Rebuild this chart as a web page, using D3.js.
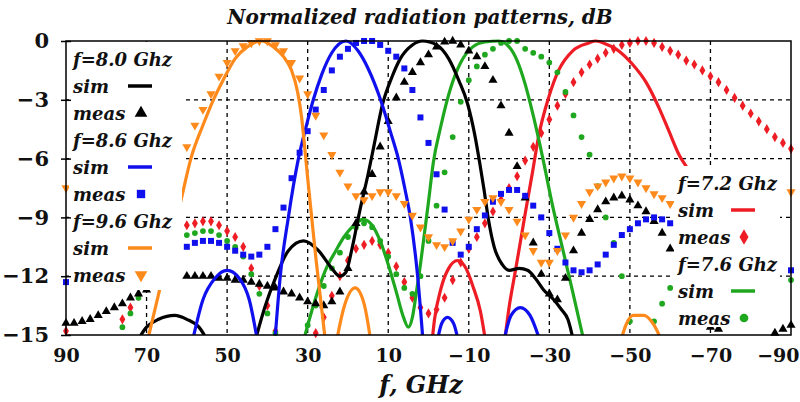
<!DOCTYPE html>
<html>
<head>
<meta charset="utf-8">
<script src="https://cdn.jsdelivr.net/npm/d3@7"></script>
<style>
  body { margin: 0; background: #fff; }
  svg text { font-family: "DejaVu Serif", serif; font-weight: bold; fill: #111; }
</style>
</head>
<body>
<svg id="chart" width="800" height="402"></svg>
<script>
/*jslint browser: true*/
/*global d3*/

// measured samples are read every 2 degrees, 90 .. -90 (null = off the chart / hidden)
var measAngles = d3.range(90, -91, -2);

var xTicks = [90, 70, 50, 30, 10, -10, -30, -50, -70, -90],
   yTicks = [0, -3, -6, -9, -12, -15],
   xGrid = [70, 50, 30, 10, -10, -30, -50, -70],
   yGrid = [-3, -6, -9, -12];

// f = 7.2 GHz
var sim72 = [
   [-0.8, -15.5], [-1.5, -14.2], [-3, -12.7], [-5, -11.6], [-7.2, -11.2], [-9.3, -11.6], [-11, -12.5], [-12.9, -13.8], [-14.3, -15.5], null,
   [-18.8, -15.5], [-20, -13.6], [-21.6, -11.7], [-24.1, -8.7], [-25.9, -6.6], [-27.3, -4.9], [-29.8, -2.9], [-32.3, -1.5], [-35.8, -0.5],
   [-39.8, -0.1], [-41.5, 0], [-44, -0.15], [-46.5, -0.4], [-50.7, -1.2], [-54, -2.1], [-57.2, -3.4], [-59.7, -4.6], [-62.2, -5.8], [-64.6, -6.6], [-67, -7.5]
];
var meas72 = [
   -14.8, null, null, null, null, null, null, -14.2, -13.6, -13.0,   // 90..72
   -12.4, null, null, null, null, -9.4, -9.3, -9.2, -9.2, -9.4,       // 70..52
   -9.7, -10.0, -10.5, -11.6, -12.5, -13.5, -14.8, null, null, null,  // 50..32
   null, -14.9, -14.1, -13.0, -12.0, -11.2, -10.6, -10.4, -10.2, -10.4, // 30..12
   -10.8, -11.5, -12.3, -13.1, -13.6, -13.9, -13.7, -13.1, -12.2, -11.3, // 10..-8
   -10.6, -10.0, -9.3, -8.7, -8.1, -7.5, -6.9, -6.1, -5.4, -4.7,     // -10..-28
   -4.0, -3.3, -2.7, -2.1, -1.6, -1.2, -0.9, -0.6, -0.4, -0.2,       // -30..-48
   -0.1, 0, 0, -0.1, -0.3, -0.5, -0.7, -1.0, -1.2, -1.5,             // -50..-68
   -1.8, -2.1, -2.5, -2.9, -3.3, -3.7, -4.1, -4.5, -4.9, -5.2,       // -70..-88
   -5.5
];

// f = 7.6 GHz
var sim76 = [
   [31.3, -15.5], [28, -13.1], [25.6, -11.7], [23, -10.7], [21, -10], [18.5, -9.4], [16.2, -9.1], [14, -9.4], [12, -10.2], [10, -11.4],
   [8, -12.8], [6.2, -14.1], [5, -14.6], [4, -14.1], [3, -12.8], [2, -11.4], [1, -9.8], [0, -8.2], [-1.2, -6.2], [-3, -4.4], [-5.5, -2.4],
   [-8, -1.1], [-11, -0.3], [-14, -0.05], [-17.5, 0], [-20, -0.3], [-22, -1], [-24, -2.2], [-26, -3.8], [-28.4, -6.0], [-30.8, -8.4],
   [-33.3, -10.6], [-35.8, -12.8], [-38.8, -15.5]
];
var meas76 = [
   null, null, null, null, null, null, null, -14.6, -13.9, -13.1,
   -12.5, null, null, null, null, -9.9, -9.8, -9.7, -9.7, -9.9,
   -10.2, -10.5, -11.0, -11.9, -12.9, -13.9, -14.9, null, null, null,
   -14.5, -13.5, -12.5, -11.6, -10.8, -10.0, -9.5, -9.3, -9.5, -10.2,
   -11.0, -11.9, -12.6, -12.9, -12.0, -10.2, -8.4, -6.7, -4.9, -3.1,
   -2.0, -1.3, -0.7, -0.4, -0.1, 0, 0, -0.4, -0.6, -0.8,
   -1.1, -1.6, -2.6, -3.8, -4.9, -5.8, -7.4, -9.0, -10.3, -12.0,
   -14.3, null, null, -14.3, -13.4, -12.6, null, null, null, null,
   null, null, null, null, null, null, null, null, null, null,
   -12.2
];

// f = 8.0 GHz
var sim80 = [
   [72.8, -15.5], [70, -14.6], [67, -14.2], [63, -14.0], [60, -14.2], [57, -14.6], [54.3, -15.5], null,
   [43.3, -15.5], [40.5, -13.5], [38, -12.1], [34.8, -10.7], [31, -10.2], [27.3, -10.7], [24, -11.6], [22, -12.0], [20.5, -11.8], [19, -10.6],
   [17, -8.6], [15, -6.8], [13.5, -5.3], [11.5, -3.3], [9, -1.8], [7, -0.9], [4, -0.2], [1.5, 0], [-2, -0.2], [-5, -0.9], [-7.5, -2.0],
   [-9.7, -3.2], [-11.5, -4.8], [-12.7, -6.2], [-13.8, -7.6], [-14.8, -9.0], [-16.3, -10.5], [-18.3, -11.4], [-20, -11.7], [-22.5, -11.6],
   [-24.6, -11.7], [-26.5, -12.1], [-28.6, -12.7], [-31.1, -13.2], [-33, -13.7], [-34.6, -14.2], [-36.2, -15.5]
];
var meas80 = [
   -14.4, -14.4, -14.3, -14.2, -14.0, -13.8, -13.6, -13.4, -13.1, -12.9,
   -12.7, null, null, null, null, -12.0, -12.0, -12.0, -12.0, -12.1,
   -12.1, -12.2, -12.2, -12.3, -12.4, -12.5, -12.6, -12.8, -12.9, -13.1,
   -13.3, -13.4, -13.5, -13.3, -12.8, -11.6, -9.3, -7.7, -6.8, -5.4,
   -4.1, -2.9, -2.1, -1.6, -1.1, -0.7, -0.3, -0.05, 0, -0.2,
   -0.5, -0.8, -1.3, -2.0, -3.3, -4.7, -6.4, -8.0, -10.3, -11.9,
   -12.9, -13.2, -12.1, -10.7, -9.8, -9.1, -8.6, -8.2, -8.0, -7.9,
   -8.1, -8.4, -8.7, -9.2, -9.8, -10.6, null, null, null, null,
   -14.6, -14.7, null, null, null, null, null, null, -14.9, -14.7,
   -14.5
];

// f = 8.6 GHz
var sim86 = [
   [58.8, -15.5], [56, -13.2], [53, -12.1], [50, -11.7], [47, -12.1], [44.5, -13.2], [42.3, -15.5], null,
   [38.2, -15.5], [36.8, -12], [34.8, -9], [32.3, -6], [30.3, -4.3], [28.6, -3], [26.5, -1.7], [24, -0.6], [20.5, 0], [17.5, -0.5],
   [15, -1.4], [11.9, -3], [9.5, -4.6], [7.5, -6], [5.8, -7.6], [4.5, -9], [2.7, -12], [1.3, -15.5], null,
   [-2, -15.5], [-3.3, -14.4], [-4.7, -14.1], [-6.2, -14.4], [-7.6, -15.5], null,
   [-18.5, -15.5], [-20.5, -14], [-22.8, -13.6], [-25.2, -14], [-28, -15.5]
];
var meas86 = [
   -12.3, null, null, null, null, null, null, null, null, null,
   null, null, null, null, null, -10.5, -10.3, -10.2, -10.2, -10.3,
   -10.5, -10.7, -10.9, -11.0, -10.9, -10.5, -9.6, -8.5, -7.0, -5.7,
   -4.6, -3.5, -2.5, -1.5, -0.8, -0.4, -0.1, 0, 0, -0.2,
   -0.5, -0.8, -1.4, -2.5, -3.9, -5.2, -6.8, -8.6, -10.3, -10.9,
   -10.5, -9.6, -8.9, -8.2, -7.8, -7.6, -7.6, -7.9, -8.4, -9.0,
   -9.8, -10.6, -11.3, -11.7, -11.8, -11.7, -11.4, -10.9, -10.4, -9.9,
   -9.6, -9.3, -9.1, -9.0, -9.1, -9.3, null, null, null, null,
   null, null, null, null, null, null, null, null, null, null,
   -11.7
];

// f = 9.6 GHz
var sim96 = [
   [70, -15.5], [67, -12.9], [65, -11.2], [63, -9.5], [61.2, -7.9], [59, -6], [56, -4.3], [53.4, -3], [51, -2], [48, -0.9], [45, -0.3],
   [41.5, 0], [38.5, -0.3], [36, -0.8], [34, -1.5], [32.5, -2.6], [31.5, -3.9], [30.7, -5.5], [30, -7], [29, -9], [28, -11], [27, -12.8],
   [25.5, -15.5], null,
   [23, -15.5], [21, -13.6], [18.2, -12.6], [16, -13.4], [14.2, -15.5], null,
   [-47.5, -15.5], [-49, -14.5], [-50.8, -14.0], [-53.5, -14.0], [-56, -14.5], [-58.3, -15.5]
];
var meas96 = [
   -7.5, null, null, null, null, null, null, null, null, null,
   null, null, null, null, null, -5.4, -4.3, -3.5, -2.7, -1.8,
   -1.1, -0.5, -0.25, -0.1, 0, 0, -0.2, -0.5, -1.1, -1.9,
   -2.7, -3.8, -4.8, -5.8, -6.7, -7.4, -7.9, -8.1, -7.9, -7.7,
   -7.7, -7.9, -8.3, -8.9, -9.5, -10.0, -10.4, -10.5, -10.2, -9.7,
   -9.1, -8.6, -8.2, -8.0, -8.2, -8.6, -9.2, -9.9, -10.7, -11.3,
   -11.3, -10.7, -9.9, -9.0, -8.3, -7.7, -7.4, -7.2, -7.0, -6.9,
   -7.0, -7.2, -7.5, -7.8, -8.0, -8.3, null, null, null, null,
   null, null, null, null, null, null, null, null, null, null,
   -7.7
];

var legendLeft = ["f=8.0 Ghz", "sim", "meas", "f=8.6 Ghz", "sim", "meas", "f=9.6 Ghz", "sim", "meas"],
   legendRight = ["f=7.2 Ghz", "sim", "meas", "f=7.6 Ghz", "sim", "meas"];

(function () {
   "use strict";
   var svg = d3.select("#chart"),
      x = d3.scaleLinear().domain([90, -90]).range([66, 791]),
      y = d3.scaleLinear().domain([0, -15]).range([41, 335]),
      series = [
         {sim: sim72, meas: meas72, color: "#ee1c24", symbol: d3.symbolDiamond, size: 30, rot: 0},
         {sim: sim76, meas: meas76, color: "#1fa81f", symbol: d3.symbolCircle, size: 26, rot: 0},
         {sim: sim80, meas: meas80, color: "#000000", symbol: d3.symbolTriangle, size: 36, rot: 0},
         {sim: sim86, meas: meas86, color: "#1010ee", symbol: d3.symbolSquare, size: 36, rot: 0},
         {sim: sim96, meas: meas96, color: "#ff8a1c", symbol: d3.symbolTriangle, size: 36, rot: 180}
      ],
      line = d3.line()
         .defined(function (d) { return d !== null; })
         .x(function (d) { return x(d[0]); })
         .y(function (d) { return y(d[1]); })
         .curve(d3.curveMonotoneX),
      gridG,
      dataG,
      yAxisG,
      xAxisG;

   svg.append("defs").append("clipPath").attr("id", "plotClip")
      .append("rect")
      .attr("x", x(90)).attr("y", y(0) - 4)
      .attr("width", x(-90) - x(90)).attr("height", y(-15) - y(0) + 4);

   // dashed grid
   gridG = svg.append("g").attr("class", "grid")
      .attr("stroke", "#000").attr("stroke-width", 1.3).attr("stroke-dasharray", "4,4");
   gridG.selectAll(".gx").data(xGrid).enter().append("line")
      .attr("x1", function (d) { return x(d); }).attr("x2", function (d) { return x(d); })
      .attr("y1", y(0)).attr("y2", y(-15));
   gridG.selectAll(".gy").data(yGrid).enter().append("line")
      .attr("y1", function (d) { return y(d); }).attr("y2", function (d) { return y(d); })
      .attr("x1", x(90)).attr("x2", x(-90));

   // curves and markers
   dataG = svg.append("g");
   series.forEach(function (s) {
      dataG.append("path")
         .attr("d", line(s.sim))
         .attr("clip-path", "url(#plotClip)")
         .attr("fill", "none")
         .attr("stroke", s.color)
         .attr("stroke-width", 3.2)
         .attr("stroke-linejoin", "round");

      var pts = measAngles.map(function (a, i) {
         return [a, s.meas[i]];
      }).filter(function (p) {
         return p[1] !== null && p[1] >= -15;
      });

      dataG.selectAll(null).data(pts).enter().append("path")
         .attr("d", d3.symbol().type(s.symbol).size(s.size))
         .attr("transform", function (d) {
            return "translate(" + x(d[0]) + "," + y(d[1]) + ") rotate(" + s.rot + ")";
         })
         .attr("fill", s.color);
   });

   // legends sit on white boxes over the plot
   function drawLegend(labels, left, top, boxW, boxH, idx, lineX) {
      var g = svg.append("g");
      g.append("rect").attr("x", left - 4).attr("y", top).attr("width", boxW).attr("height", boxH).attr("fill", "#fff");
      labels.forEach(function (t, i) {
         var base = top + 24 + i * 27,
            s = series[idx[Math.floor(i / 3)]];
         g.append("text")
            .attr("x", left).attr("y", base)
            .attr("font-style", "italic").attr("font-size", 18)
            .text(t);
         if (i % 3 === 1) {
            g.append("line")
               .attr("x1", lineX).attr("x2", lineX + 24)
               .attr("y1", base - 7).attr("y2", base - 7)
               .attr("stroke", s.color).attr("stroke-width", 3.5);
         } else if (i % 3 === 2) {
            g.append("path")
               .attr("d", d3.symbol().type(s.symbol).size(s.symbol === d3.symbolCircle ? 60 : 70))
               .attr("transform", "translate(" + (lineX + 13) + "," + (base - 7) + ") rotate(" + s.rot + ")")
               .attr("fill", s.color);
         }
      });
   }
   drawLegend(legendLeft, 73, 42, 113, 248, [2, 3, 4], 128);
   drawLegend(legendRight, 678, 166, 106, 161, [0, 1], 731);

   // frame
   svg.append("rect")
      .attr("x", x(90)).attr("y", y(0))
      .attr("width", x(-90) - x(90)).attr("height", y(-15) - y(0))
      .attr("fill", "none").attr("stroke", "#000").attr("stroke-width", 1.5);

   // axes
   yAxisG = svg.append("g")
      .attr("transform", "translate(" + x(90) + ",0)")
      .call(d3.axisLeft(y).tickValues(yTicks).tickSize(5).tickPadding(12).tickFormat(d3.format("d")));
   yAxisG.select(".domain").remove();
   yAxisG.selectAll(".tick line").attr("x1", 5).attr("stroke-width", 1.5);
   yAxisG.attr("font-family", null).attr("font-size", 21);

   xAxisG = svg.append("g")
      .attr("transform", "translate(0," + y(-15) + ")")
      .call(d3.axisBottom(x).tickValues(xTicks).tickSize(0).tickPadding(14).tickFormat(d3.format("d")));
   xAxisG.select(".domain").remove();
   xAxisG.attr("font-family", null).attr("font-size", 19);
   // the last label sits against the right edge of the picture
   xAxisG.selectAll(".tick text").filter(function (d) { return d === -90; })
      .attr("text-anchor", "end").attr("dx", 8);

   // titles
   svg.append("text")
      .attr("x", 420).attr("y", 24)
      .attr("text-anchor", "middle")
      .attr("font-style", "italic").attr("font-size", 20)
      .text("Normalized radiation patterns, dB");
   svg.append("text")
      .attr("x", 421).attr("y", 393)
      .attr("text-anchor", "middle")
      .attr("font-style", "italic").attr("font-size", 24)
      .text("f, GHz");
}());
</script>
</body>
</html>
